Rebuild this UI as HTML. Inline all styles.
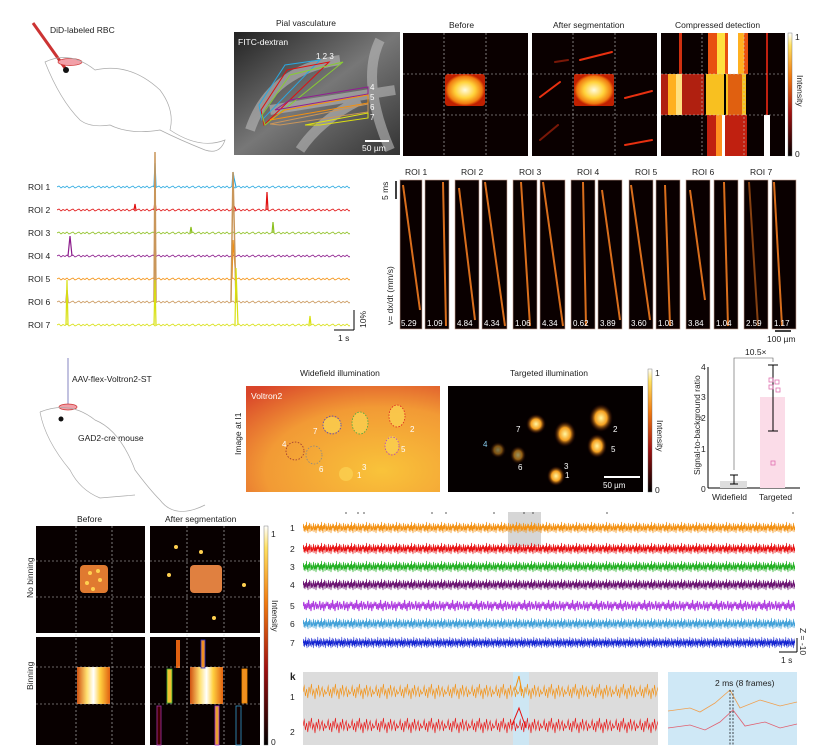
<!DOCTYPE html>
<html><head><meta charset="utf-8"><style>
body{margin:0;background:#fff}
svg{display:block;font-family:"Liberation Sans",sans-serif}
</style></head><body>
<svg width="815" height="755" viewBox="0 0 815 755" xmlns="http://www.w3.org/2000/svg" xmlns:xlink="http://www.w3.org/1999/xlink">
<defs>
<radialGradient id="hot"><stop offset="0" stop-color="#fffbe0"/><stop offset="0.5" stop-color="#ffd23a"/><stop offset="0.85" stop-color="#f07a10"/><stop offset="1" stop-color="#c02000"/></radialGradient>
<radialGradient id="spot"><stop offset="0" stop-color="#fff6a0"/><stop offset="0.5" stop-color="#f5a020"/><stop offset="1" stop-color="#300" stop-opacity="0"/></radialGradient>
<radialGradient id="wf" cx="0.7" cy="0.8" r="1"><stop offset="0" stop-color="#f9c33a"/><stop offset="0.6" stop-color="#f29a35"/><stop offset="1" stop-color="#d9452a"/></radialGradient>
<linearGradient id="cb" x1="0" y1="1" x2="0" y2="0"><stop offset="0" stop-color="#000"/><stop offset="0.35" stop-color="#a01010"/><stop offset="0.65" stop-color="#f07a10"/><stop offset="0.9" stop-color="#ffe060"/><stop offset="1" stop-color="#fff"/></linearGradient>
<linearGradient id="vas" x1="0" y1="0" x2="1" y2="1"><stop offset="0" stop-color="#222"/><stop offset="0.5" stop-color="#777"/><stop offset="1" stop-color="#333"/></linearGradient>
<linearGradient id="bin" x1="0" x2="1"><stop offset="0" stop-color="#d05010"/><stop offset="0.3" stop-color="#ffe070"/><stop offset="0.5" stop-color="#fff"/><stop offset="0.7" stop-color="#ffd040"/><stop offset="1" stop-color="#e06010"/></linearGradient>
<path id="zz" fill="none" stroke-width="1.3" d="M0 8 L1 4 L2 11 L3 6 L4 12 L5 5 L6 10 L7 2 L8 11 L9 6 L10 13 L11 5 L12 9 L13 3 L14 12 L15 7 L16 4 L17 11 L18 6 L19 10 L20 8 L21 3 L22 12 L23 7 L24 10 L25 4 L26 13 L27 6 L28 9 L29 5 L30 8"/>
<path id="zs" fill="none" stroke-width="0.8" d="M0 3 L2 2 L4 4 L6 2.5 L8 3.5 L10 2 L12 4 L14 3 L16 2 L18 4 L20 3"/>
<path id="zk" fill="none" stroke-width="1" d="M0 12 L2 6 L4 16 L6 9 L8 18 L10 7 L12 13 L14 4 L16 15 L18 10 L20 19 L22 8 L24 14 L26 5 L28 16 L30 11 L32 7 L34 17 L36 10 L38 14 L40 12"/>
<pattern id="v1" patternUnits="userSpaceOnUse" width="30" height="16" patternTransform="scale(0.5,1)"><use xlink:href="#zz" stroke="#f39010"/></pattern>
<pattern id="v2" patternUnits="userSpaceOnUse" width="30" height="16" patternTransform="scale(0.5,1)"><use xlink:href="#zz" stroke="#e81010"/></pattern>
<pattern id="v3" patternUnits="userSpaceOnUse" width="30" height="16" patternTransform="scale(0.5,1)"><use xlink:href="#zz" stroke="#20b020"/></pattern>
<pattern id="v4" patternUnits="userSpaceOnUse" width="30" height="16" patternTransform="scale(0.5,1)"><use xlink:href="#zz" stroke="#6a1070"/></pattern>
<pattern id="v5" patternUnits="userSpaceOnUse" width="30" height="16" patternTransform="scale(0.8,1)"><use xlink:href="#zz" stroke="#b040e0"/></pattern>
<pattern id="v6" patternUnits="userSpaceOnUse" width="30" height="16" patternTransform="scale(0.5,1)"><use xlink:href="#zz" stroke="#40a0d8"/></pattern>
<pattern id="v7" patternUnits="userSpaceOnUse" width="30" height="16" patternTransform="scale(0.4,1)"><use xlink:href="#zz" stroke="#1020d0"/></pattern>
<pattern id="r1" patternUnits="userSpaceOnUse" width="20" height="6"><use xlink:href="#zs" stroke="#29a8e0"/></pattern>
<pattern id="r2" patternUnits="userSpaceOnUse" width="20" height="6"><use xlink:href="#zs" stroke="#e01010"/></pattern>
<pattern id="r3" patternUnits="userSpaceOnUse" width="20" height="6"><use xlink:href="#zs" stroke="#8cc020"/></pattern>
<pattern id="r4" patternUnits="userSpaceOnUse" width="20" height="6"><use xlink:href="#zs" stroke="#8b1a8b"/></pattern>
<pattern id="r5" patternUnits="userSpaceOnUse" width="20" height="6"><use xlink:href="#zs" stroke="#f39010"/></pattern>
<pattern id="r6" patternUnits="userSpaceOnUse" width="20" height="6"><use xlink:href="#zs" stroke="#c9965a"/></pattern>
<pattern id="r7" patternUnits="userSpaceOnUse" width="20" height="6"><use xlink:href="#zs" stroke="#d8e010"/></pattern>
<pattern id="k1" patternUnits="userSpaceOnUse" width="40" height="24" patternTransform="scale(0.6,1)"><use xlink:href="#zk" stroke="#f39010"/></pattern>
<pattern id="k2" patternUnits="userSpaceOnUse" width="40" height="24" patternTransform="scale(0.6,1)"><use xlink:href="#zk" stroke="#e81010"/></pattern>
</defs>
<g font-size="8.5" fill="#222">
<!-- mouse 1 -->
<text x="50" y="33">DiD-labeled RBC</text>
<line x1="33" y1="23" x2="65" y2="68" stroke="#c33" stroke-width="3"/>
<ellipse cx="70" cy="62" rx="12" ry="3.5" fill="#f2a0a8" stroke="#c33" stroke-width="0.7"/>
<circle cx="66" cy="70" r="3" fill="#111"/>
<path d="M45 62 Q70 50 95 70 Q130 62 160 90 Q175 110 170 130 Q200 150 225 140 Q220 155 205 150 Q180 140 160 130 Q130 135 110 125 Q90 128 80 120 Q60 100 45 62Z" fill="none" stroke="#aaa" stroke-width="0.7"/>
<!-- pial -->
<text x="276" y="26">Pial vasculature</text>
<rect x="234" y="32" width="166" height="123" fill="url(#vas)"/>
<path d="M250 130 Q270 70 340 60 M270 110 L395 90 M300 150 Q320 120 360 100 M380 40 Q360 80 390 150" stroke="#bbb" stroke-width="10" fill="none" opacity="0.6"/>
<text x="238" y="45" fill="#fff">FITC-dextran</text>
<polygon points="259,105 285,65 320,60 262,120" fill="none" stroke="#29a8e0"/>
<polygon points="261,110 287,70 329,62 264,125" fill="none" stroke="#e01010"/>
<polygon points="262,115 290,75 343,62 265,125" fill="none" stroke="#8c3"/>
<polygon points="275,110 290,100 368,87 368,94" fill="none" stroke="#902090"/>
<polygon points="270,120 285,110 368,95 368,103" fill="none" stroke="#f39010"/>
<polygon points="270,124 368,104 368,112 280,125" fill="none" stroke="#c9965a"/>
<polygon points="305,125 368,113 368,118 320,125" fill="none" stroke="#dde010"/>
<text x="316" y="59" fill="#fff" font-size="8">1 2 3</text>
<text x="370" y="90" fill="#fff" font-size="8">4</text><text x="370" y="100" fill="#fff" font-size="8">5</text><text x="370" y="110" fill="#fff" font-size="8">6</text><text x="370" y="120" fill="#fff" font-size="8">7</text>
<line x1="365" y1="141" x2="389" y2="141" stroke="#fff" stroke-width="2"/>
<text x="362" y="151" fill="#fff">50 µm</text>
<!-- before/after/compressed -->
<text x="449" y="28">Before</text><text x="553" y="28">After segmentation</text><text x="675" y="28">Compressed detection</text>
<rect x="403" y="33" width="125" height="123" fill="#0a0000"/>
<rect x="445" y="74" width="40" height="32" rx="3" fill="url(#hot)"/>
<rect x="532" y="33" width="125" height="123" fill="#0a0000"/>
<rect x="574" y="74" width="40" height="32" rx="2" fill="url(#hot)"/>
<g stroke="#e83010" stroke-width="2" stroke-linecap="round"><line x1="580" y1="60" x2="612" y2="52"/><line x1="555" y1="62" x2="568" y2="60" opacity="0.5"/><line x1="540" y1="97" x2="560" y2="82"/><line x1="625" y1="98" x2="652" y2="91"/><line x1="540" y1="140" x2="558" y2="125" opacity="0.5"/><line x1="625" y1="145" x2="652" y2="140"/></g>
<rect x="661" y="33" width="124" height="123" fill="#0a0000"/>
<g><rect x="679" y="33" width="3" height="41" fill="#d03010"/><rect x="708" y="33" width="40" height="41" fill="#e85010"/><rect x="717" y="33" width="8" height="41" fill="#ffe040"/><rect x="728" y="33" width="10" height="41" fill="#fff"/><rect x="738" y="33" width="6" height="41" fill="#ffb020"/><rect x="766" y="33" width="2" height="123" fill="#c02010"/>
<rect x="661" y="74" width="43" height="41" fill="#b02010"/><rect x="668" y="74" width="12" height="41" fill="#ffb020"/><rect x="676" y="74" width="6" height="41" fill="#ffe080"/><rect x="706" y="74" width="40" height="41" fill="#f8c020"/><rect x="724" y="74" width="2" height="41" fill="#000"/><rect x="728" y="74" width="14" height="41" fill="#e06010"/>
<rect x="707" y="115" width="40" height="41" fill="#c02010"/><rect x="716" y="115" width="8" height="41" fill="#ff9020"/><rect x="722" y="115" width="3" height="41" fill="#fff"/><rect x="764" y="115" width="6" height="41" fill="#fff"/></g>
<g stroke="#ccc" stroke-dasharray="2,2" stroke-width="0.6"><line x1="444" y1="33" x2="444" y2="156"/><line x1="486" y1="33" x2="486" y2="156"/><line x1="403" y1="74" x2="528" y2="74"/><line x1="403" y1="115" x2="528" y2="115"/>
<line x1="573" y1="33" x2="573" y2="156"/><line x1="615" y1="33" x2="615" y2="156"/><line x1="532" y1="74" x2="657" y2="74"/><line x1="532" y1="115" x2="657" y2="115"/>
<line x1="702" y1="33" x2="702" y2="156"/><line x1="744" y1="33" x2="744" y2="156"/><line x1="661" y1="74" x2="785" y2="74"/><line x1="661" y1="115" x2="785" y2="115"/></g>
<rect x="788" y="33" width="4" height="123" fill="url(#cb)" stroke="#666" stroke-width="0.4"/>
<text x="795" y="40">1</text><text x="795" y="157">0</text>
<text transform="translate(797,75) rotate(90)">Intensity</text>
<!-- ROI traces -->
<text x="28" y="190">ROI 1</text><text x="28" y="213">ROI 2</text><text x="28" y="236">ROI 3</text><text x="28" y="259">ROI 4</text><text x="28" y="282">ROI 5</text><text x="28" y="305">ROI 6</text><text x="28" y="328">ROI 7</text>
<rect x="0" y="0" width="293" height="6" fill="url(#r1)" transform="translate(57,184)"/>
<rect x="0" y="0" width="293" height="6" fill="url(#r2)" transform="translate(57,207)"/>
<rect x="0" y="0" width="293" height="6" fill="url(#r3)" transform="translate(57,230)"/>
<rect x="0" y="0" width="293" height="6" fill="url(#r4)" transform="translate(57,253)"/>
<rect x="0" y="0" width="293" height="6" fill="url(#r5)" transform="translate(57,276)"/>
<rect x="0" y="0" width="293" height="6" fill="url(#r6)" transform="translate(57,299)"/>
<rect x="0" y="0" width="293" height="6" fill="url(#r7)" transform="translate(57,322)"/>
<g fill="none" stroke-width="1.2">
<path d="M154 187 L155 163 L156 187 M232 187 L233 172 L234 178 L236 187" stroke="#29a8e0"/>
<path d="M134 210 L135 204 L136 210 M154 210 L155 201 L156 210 M232 210 L233 204 L236 210 M266 210 L267 192 L268 210" stroke="#e01010"/>
<path d="M190 233 L191 227 L192 233 M272 233 L273 222 L274 233" stroke="#8cc020"/>
<path d="M68 256 L70 236 L72 256 M154 256 L155 245 L156 256" stroke="#8b1a8b"/>
<path d="M154 279 L155 250 L156 279 M232 279 L233 240 L236 279" stroke="#f39010"/>
<path d="M66 302 L67 290 L68 302 M154 302 L155 152 L156 302 M231 302 L233 172 L236 302" stroke="#c9965a" stroke-width="1.5"/>
<path d="M66 325 L67 280 L68 325 M154 325 L155 280 L156 325 M235 325 L236 268 L238 325 M309 325 L310 316 L311 325" stroke="#d8e010"/>
</g>
<line x1="334" y1="330" x2="354" y2="330" stroke="#000"/><line x1="354" y1="310" x2="354" y2="330" stroke="#000"/>
<text x="338" y="341">1 s</text><text transform="translate(366,328) rotate(-90)">10%</text>
<!-- kymographs -->
<g fill="#0a0000" stroke="#c9a090" stroke-width="0.6">
<rect x="400" y="180" width="22" height="149"/><rect x="425" y="180" width="24" height="149"/>
<rect x="455" y="180" width="24" height="149"/><rect x="482" y="180" width="25" height="149"/>
<rect x="513" y="180" width="24" height="149"/><rect x="540" y="180" width="25" height="149"/>
<rect x="571" y="180" width="24" height="149"/><rect x="598" y="180" width="24" height="149"/>
<rect x="629" y="180" width="24" height="149"/><rect x="656" y="180" width="24" height="149"/>
<rect x="686" y="180" width="24" height="149"/><rect x="714" y="180" width="24" height="149"/>
<rect x="744" y="180" width="24" height="149"/><rect x="772" y="180" width="24" height="149"/>
</g>
<g stroke="#f07a20" stroke-width="2" opacity="0.9">
<line x1="403" y1="185" x2="420" y2="310"/><line x1="443" y1="182" x2="446" y2="326"/>
<line x1="459" y1="188" x2="475" y2="320"/><line x1="485" y1="182" x2="505" y2="326"/>
<line x1="521" y1="182" x2="530" y2="326"/><line x1="543" y1="182" x2="563" y2="326"/>
<line x1="583" y1="182" x2="586" y2="326"/><line x1="602" y1="190" x2="620" y2="320"/>
<line x1="631" y1="185" x2="650" y2="320"/><line x1="665" y1="185" x2="670" y2="326"/>
<line x1="690" y1="190" x2="705" y2="300"/><line x1="724" y1="182" x2="728" y2="326"/>
<line x1="749" y1="182" x2="758" y2="326" opacity="0.6"/><line x1="774" y1="182" x2="782" y2="326"/>
</g>
<g fill="#222"><text x="405" y="175">ROI 1</text><text x="461" y="175">ROI 2</text><text x="519" y="175">ROI 3</text><text x="577" y="175">ROI 4</text><text x="635" y="175">ROI 5</text><text x="692" y="175">ROI 6</text><text x="750" y="175">ROI 7</text></g>
<g fill="#fff" font-size="8"><text x="401" y="326">5.29</text><text x="427" y="326">1.09</text><text x="457" y="326">4.84</text><text x="484" y="326">4.34</text><text x="515" y="326">1.06</text><text x="542" y="326">4.34</text><text x="573" y="326">0.62</text><text x="600" y="326">3.89</text><text x="631" y="326">3.60</text><text x="658" y="326">1.03</text><text x="688" y="326">3.84</text><text x="716" y="326">1.04</text><text x="746" y="326">2.59</text><text x="774" y="326">1.17</text></g>
<line x1="396" y1="181" x2="396" y2="199" stroke="#000" stroke-width="1.5"/>
<text transform="translate(388,200) rotate(-90)">5 ms</text>
<text transform="translate(393,325) rotate(-90)">v= dx/dt (mm/s)</text>
<line x1="775" y1="331" x2="791" y2="331" stroke="#000" stroke-width="1.5"/><text x="767" y="342">100 µm</text>
<!-- mouse 2 -->
<line x1="68" y1="358" x2="68" y2="405" stroke="#99c" stroke-width="1.2"/>
<text x="72" y="382">AAV-flex-Voltron2-ST</text>
<ellipse cx="68" cy="407" rx="9" ry="3" fill="#f2a0a8" stroke="#c33" stroke-width="0.7"/>
<circle cx="61" cy="419" r="2.5" fill="#111"/>
<text x="78" y="441">GAD2-cre mouse</text>
<path d="M40 412 Q70 400 95 420 Q120 430 135 470 Q150 490 160 500 Q175 520 205 505 M40 412 Q45 440 70 470 Q80 490 100 498 L135 495" fill="none" stroke="#aaa" stroke-width="0.7"/>
<!-- widefield / targeted -->
<text x="300" y="376">Widefield illumination</text><text x="510" y="376">Targeted illumination</text>
<text transform="translate(241,455) rotate(-90)">Image at I1</text>
<rect x="246" y="386" width="194" height="106" fill="url(#wf)"/>
<text x="251" y="399" fill="#fff">Voltron2</text>
<g fill="#fbd050" opacity="0.8"><ellipse cx="332" cy="425" rx="9" ry="8"/><ellipse cx="360" cy="423" rx="8" ry="11"/><ellipse cx="397" cy="416" rx="8" ry="11"/><ellipse cx="392" cy="445" rx="7" ry="9"/><ellipse cx="346" cy="474" rx="7" ry="7"/></g>
<g fill="none" stroke-dasharray="1.5,1.5" stroke-width="0.8"><ellipse cx="332" cy="425" rx="9" ry="9" stroke="#44c"/><ellipse cx="360" cy="423" rx="8" ry="11" stroke="#4a4"/><ellipse cx="397" cy="416" rx="8" ry="11" stroke="#d22"/><ellipse cx="392" cy="446" rx="7" ry="9" stroke="#a4c"/><ellipse cx="295" cy="451" rx="9" ry="9" stroke="#933"/><ellipse cx="314" cy="455" rx="8" ry="9" stroke="#888"/></g>
<g fill="#fff" font-size="8"><text x="313" y="434">7</text><text x="410" y="432">2</text><text x="362" y="470">3</text><text x="282" y="447">4</text><text x="401" y="452">5</text><text x="319" y="472">6</text><text x="357" y="478">1</text></g>
<rect x="448" y="386" width="195" height="106" fill="#050000"/>
<g fill="url(#spot)"><ellipse cx="536" cy="424" rx="10" ry="10"/><ellipse cx="565" cy="434" rx="11" ry="13"/><ellipse cx="601" cy="418" rx="12" ry="14"/><ellipse cx="597" cy="446" rx="10" ry="12"/><ellipse cx="556" cy="476" rx="9" ry="10"/><ellipse cx="498" cy="450" rx="8" ry="8" opacity="0.5"/><ellipse cx="518" cy="455" rx="8" ry="9" opacity="0.6"/></g>
<g fill="#fff" font-size="8"><text x="516" y="432">7</text><text x="613" y="432">2</text><text x="564" y="469">3</text><text x="483" y="447" fill="#8ce">4</text><text x="611" y="452">5</text><text x="518" y="470">6</text><text x="565" y="478">1</text><text x="603" y="488">50 µm</text></g>
<line x1="604" y1="477" x2="640" y2="477" stroke="#fff" stroke-width="2"/>
<rect x="648" y="369" width="4" height="123" fill="url(#cb)" stroke="#666" stroke-width="0.4"/>
<text x="655" y="376">1</text><text x="655" y="493">0</text>
<text transform="translate(657,420) rotate(90)">Intensity</text>
<!-- bar chart -->
<text transform="translate(700,475) rotate(-90)">Signal-to-background ratio</text>
<line x1="708" y1="367" x2="708" y2="488" stroke="#000"/><line x1="708" y1="488" x2="800" y2="488" stroke="#000"/>
<g font-size="8.5"><text x="701" y="370">4</text><text x="701" y="400">3</text><text x="701" y="421">2</text><text x="701" y="452">1</text><text x="701" y="492">0</text></g>
<rect x="720" y="481" width="27" height="7" fill="#ddd"/><rect x="760" y="397" width="25" height="91" fill="#fbdce8"/>
<line x1="734" y1="475" x2="734" y2="484" stroke="#000"/><line x1="730" y1="475" x2="738" y2="475" stroke="#000"/><line x1="730" y1="484" x2="738" y2="484" stroke="#000"/>
<line x1="773" y1="365" x2="773" y2="431" stroke="#000"/><line x1="768" y1="365" x2="778" y2="365" stroke="#000"/><line x1="768" y1="431" x2="778" y2="431" stroke="#000"/>
<g fill="none" stroke="#e070b0" stroke-width="0.8"><rect x="769" y="378" width="4" height="4"/><rect x="775" y="380" width="4" height="4"/><rect x="769" y="385" width="4" height="4"/><rect x="776" y="388" width="4" height="4"/><rect x="771" y="461" width="4" height="4"/></g>
<path d="M734 470 V358 H773 V362" fill="none" stroke="#555" stroke-width="0.6"/>
<text x="745" y="355">10.5×</text>
<text x="712" y="500">Widefield</text><text x="759" y="500">Targeted</text>
<!-- bottom left -->
<text x="77" y="522">Before</text><text x="165" y="522">After segmentation</text>
<text transform="translate(33,598) rotate(-90)">No binning</text>
<text transform="translate(33,690) rotate(-90)">Binning</text>
<rect x="36" y="526" width="109" height="107" fill="#080000"/><rect x="36" y="637" width="109" height="108" fill="#080000"/>
<rect x="150" y="526" width="110" height="107" fill="#080000"/><rect x="150" y="637" width="110" height="108" fill="#080000"/>
<rect x="80" y="565" width="28" height="28" rx="4" fill="#e07a30"/>
<rect x="190" y="565" width="32" height="28" rx="4" fill="#e08040"/>
<g fill="#ffd050"><circle cx="90" cy="573" r="2"/><circle cx="98" cy="571" r="2"/><circle cx="87" cy="583" r="2"/><circle cx="100" cy="580" r="2"/><circle cx="93" cy="589" r="2"/><circle cx="176" cy="547" r="2"/><circle cx="201" cy="552" r="2"/><circle cx="169" cy="575" r="2"/><circle cx="244" cy="585" r="2"/><circle cx="214" cy="618" r="2"/></g>
<rect x="77" y="667" width="33" height="37" fill="url(#bin)"/>
<rect x="190" y="667" width="33" height="37" fill="url(#bin)"/>
<rect x="176" y="640" width="4" height="28" fill="#e06010"/><rect x="201" y="640" width="4" height="28" fill="#f09020" stroke="#33c" stroke-width="0.8"/>
<rect x="167" y="669" width="5" height="34" fill="#f0c030" stroke="#3a3" stroke-width="0.8"/><rect x="242" y="669" width="5" height="34" fill="#f09020" stroke="#e80" stroke-width="0.8"/>
<rect x="157" y="706" width="4" height="39" fill="#400" stroke="#a3a" stroke-width="0.8"/><rect x="215" y="706" width="4" height="39" fill="#e8a030" stroke="#a3c" stroke-width="0.8"/><rect x="236" y="706" width="5" height="39" fill="#100" stroke="#39c" stroke-width="0.8"/>
<g stroke="#ccc" stroke-dasharray="2,2" stroke-width="0.6"><line x1="76" y1="526" x2="76" y2="745"/><line x1="112" y1="526" x2="112" y2="745"/><line x1="36" y1="561" x2="145" y2="561"/><line x1="36" y1="597" x2="145" y2="597"/><line x1="36" y1="667" x2="145" y2="667"/><line x1="36" y1="704" x2="145" y2="704"/>
<line x1="187" y1="526" x2="187" y2="745"/><line x1="224" y1="526" x2="224" y2="745"/><line x1="150" y1="561" x2="260" y2="561"/><line x1="150" y1="597" x2="260" y2="597"/><line x1="150" y1="667" x2="260" y2="667"/><line x1="150" y1="704" x2="260" y2="704"/></g>
<rect x="264" y="526" width="4" height="219" fill="url(#cb)" stroke="#666" stroke-width="0.4"/>
<text x="271" y="537">1</text><text x="271" y="745">0</text>
<text transform="translate(272,600) rotate(90)">Intensity</text>
<!-- voltage traces -->
<rect x="508" y="512" width="33" height="34" fill="#ccc" opacity="0.8"/>
<text x="290" y="531">1</text><text x="290" y="552">2</text><text x="290" y="570">3</text><text x="290" y="588">4</text><text x="290" y="609">5</text><text x="290" y="627">6</text><text x="290" y="646">7</text>
<rect x="0" y="0" width="492" height="16" fill="url(#v1)" transform="translate(303,520)"/>
<rect x="0" y="0" width="492" height="16" fill="url(#v2)" transform="translate(303,541)"/>
<rect x="0" y="0" width="492" height="16" fill="url(#v3)" transform="translate(303,559)"/>
<rect x="0" y="0" width="492" height="16" fill="url(#v4)" transform="translate(303,577)"/>
<rect x="0" y="0" width="492" height="16" fill="url(#v5)" transform="translate(303,598)"/>
<rect x="0" y="0" width="492" height="16" fill="url(#v6)" transform="translate(303,616)"/>
<rect x="0" y="0" width="492" height="16" fill="url(#v7)" transform="translate(303,635)"/>
<g stroke="#333" stroke-width="0.8"><line x1="346" y1="512" x2="346" y2="514"/><line x1="358" y1="512" x2="358" y2="514"/><line x1="364" y1="512" x2="364" y2="514"/><line x1="432" y1="512" x2="432" y2="514"/><line x1="446" y1="512" x2="446" y2="514"/><line x1="494" y1="512" x2="494" y2="514"/><line x1="524" y1="512" x2="524" y2="514"/><line x1="533" y1="512" x2="533" y2="514"/><line x1="607" y1="512" x2="607" y2="514"/><line x1="793" y1="512" x2="793" y2="514"/></g>
<line x1="779" y1="652" x2="797" y2="652" stroke="#000"/><line x1="797" y1="638" x2="797" y2="652" stroke="#000"/>
<text x="781" y="663">1 s</text><text transform="translate(800,628) rotate(90)">Z = -10</text>
<!-- k -->
<text x="290" y="680" font-weight="bold" font-size="10">k</text>
<rect x="303" y="672" width="355" height="73" fill="#dcdcdc"/>
<rect x="513" y="672" width="16" height="73" fill="#cde6f3"/>
<rect x="668" y="672" width="129" height="73" fill="#cfe8f6"/>
<rect x="0" y="0" width="355" height="24" fill="url(#k1)" transform="translate(303,680)"/>
<rect x="0" y="0" width="355" height="24" fill="url(#k2)" transform="translate(303,714)"/>
<path d="M515 690 L519 676 L522 692" fill="none" stroke="#f39010"/>
<path d="M512 725 L519 708 L526 728" fill="none" stroke="#e81010"/>
<text x="715" y="686">2 ms (8 frames)</text>
<path d="M668 711 L690 708 L700 712 L715 703 L730 690 L740 708 L760 700 L780 706 L797 702" fill="none" stroke="#f0a050" stroke-width="0.8"/>
<path d="M668 728 L690 725 L705 730 L720 722 L733 710 L745 726 L765 722 L780 728 L797 724" fill="none" stroke="#e06070" stroke-width="0.8"/>
<line x1="730" y1="690" x2="730" y2="745" stroke="#000" stroke-dasharray="2,1.5" stroke-width="0.7"/><line x1="733" y1="690" x2="733" y2="745" stroke="#000" stroke-dasharray="2,1.5" stroke-width="0.7"/>
<text x="290" y="700">1</text><text x="290" y="735">2</text>
</g>
</svg>
</body></html>
